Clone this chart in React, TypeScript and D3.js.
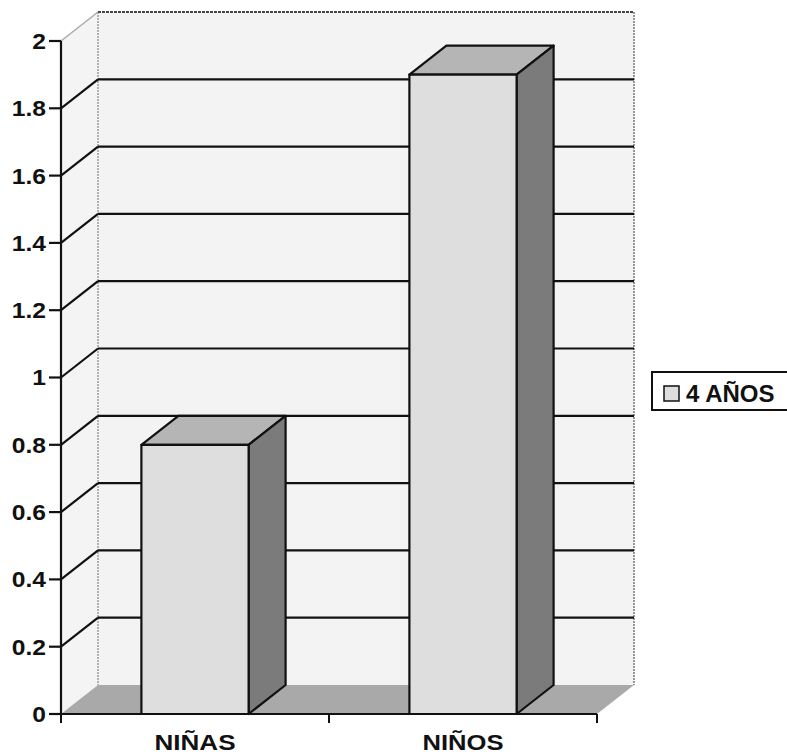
import React from "react";
import * as d3 from "d3";

const categories = ["NIÑAS", "NIÑOS"];
const values = [0.8, 1.9];
const seriesName = "4 AÑOS";
const yTicks = [0, 0.2, 0.4, 0.6, 0.8, 1, 1.2, 1.4, 1.6, 1.8, 2];

export default function App() {
  const W = 787, H = 756;
  const left = 61, right = 597, bottom = 714, top = 41;
  const dx = 37, dy = -29;
  const y = d3.scaleLinear().domain([0, 2]).range([bottom, top]);
  const x = d3.scaleBand<string>().domain(categories).range([left, right]).paddingInner(0.6).paddingOuter(0.3);
  const step = x.step();
  const font = "'Liberation Sans', Arial, sans-serif";
  const pts = (a: number[][]) => a.map((p) => p.join(",")).join(" ");
  const yTop = y(2), y0 = y(0);

  return (
    <svg width={W} height={H} style={{ position: "absolute", left: 0, top: 0, background: "#fff" }} fontFamily={font}>
      <rect x={0} y={0} width={W} height={H} fill="#fff" />
      {/* back wall */}
      <rect x={left + dx} y={yTop + dy} width={right - left} height={y0 - yTop} fill="#f3f3f3" />
      {/* side wall */}
      <polygon points={pts([[left, y0], [left, yTop], [left + dx, yTop + dy], [left + dx, y0 + dy]])} fill="#f4f4f4" />
      {/* floor */}
      <polygon points={pts([[left, y0], [right, y0], [right + dx, y0 + dy], [left + dx, y0 + dy]])} fill="#a9a9a9" />
      {/* wall edges */}
      <line x1={left + dx} x2={left + dx} y1={yTop + dy} y2={y0 + dy} stroke="#888" strokeWidth={1.2} strokeDasharray="2,1" />
      <line x1={right + dx} x2={right + dx} y1={yTop + dy} y2={y0 + dy} stroke="#777" strokeWidth={1.5} strokeDasharray="2,1" />
      <line x1={left + dx} x2={right + dx} y1={yTop + dy} y2={yTop + dy} stroke="#444" strokeWidth={2} strokeDasharray="3,1" />
      <line x1={left} y1={yTop} x2={left + dx} y2={yTop + dy} stroke="#aaa" strokeWidth={1.5} />
      {/* gridlines */}
      {yTicks.filter((t) => t > 0 && t < 2).map((t) => (
        <g key={t}>
          <line x1={left + dx} x2={right + dx} y1={y(t) + dy} y2={y(t) + dy} stroke="#111" strokeWidth={2.2} />
          <line x1={left} y1={y(t)} x2={left + dx} y2={y(t) + dy} stroke="#111" strokeWidth={2.2} />
        </g>
      ))}
      {/* bars */}
      {categories.map((c, i) => {
        const bx = x(c) as number;
        const bw = x.bandwidth();
        const by = y(values[i]);
        return (
          <g key={c} stroke="#111" strokeWidth={2.2} strokeLinejoin="round">
            <polygon points={pts([[bx, by], [bx + dx, by + dy], [bx + bw + dx, by + dy], [bx + bw, by]])} fill="#b5b5b5" />
            <polygon points={pts([[bx + bw, by], [bx + bw + dx, by + dy], [bx + bw + dx, y0 + dy], [bx + bw, y0]])} fill="#7b7b7b" />
            <rect x={bx} y={by} width={bw} height={y0 - by} fill="#dedede" />
          </g>
        );
      })}
      {/* axes */}
      <line x1={left} x2={left} y1={yTop} y2={y0} stroke="#111" strokeWidth={2.2} />
      <line x1={left} x2={right} y1={y0} y2={y0} stroke="#111" strokeWidth={2.2} />
      {yTicks.map((t) => (
        <g key={t}>
          <line x1={left - 12} x2={left} y1={y(t)} y2={y(t)} stroke="#111" strokeWidth={2.2} />
          <text transform={`translate(${left - 15},${y(t)}) scale(1.12,1)`} dy="0.36em" textAnchor="end" fontSize={22} fontWeight="bold" fill="#111">
            {String(t)}
          </text>
        </g>
      ))}
      {[0, 1, 2].map((k) => (
        <line key={k} x1={left + k * step} x2={left + k * step} y1={y0} y2={y0 + 9} stroke="#111" strokeWidth={2} />
      ))}
      {categories.map((c) => (
        <text key={c} x={(x(c) as number) + x.bandwidth() / 2} y={750} textAnchor="middle" fontSize={22} fontWeight="bold" fill="#111" textLength={81} lengthAdjust="spacingAndGlyphs">
          {c}
        </text>
      ))}
      {/* legend */}
      <rect x={652} y={372} width={140} height={38} fill="#fff" stroke="#111" strokeWidth={2} />
      <rect x={664} y={386} width={15} height={15} fill="#dedede" stroke="#111" strokeWidth={1.5} />
      <text x={686} y={402} fontSize={24} fontWeight="bold" fill="#111">{seriesName}</text>
    </svg>
  );
}
